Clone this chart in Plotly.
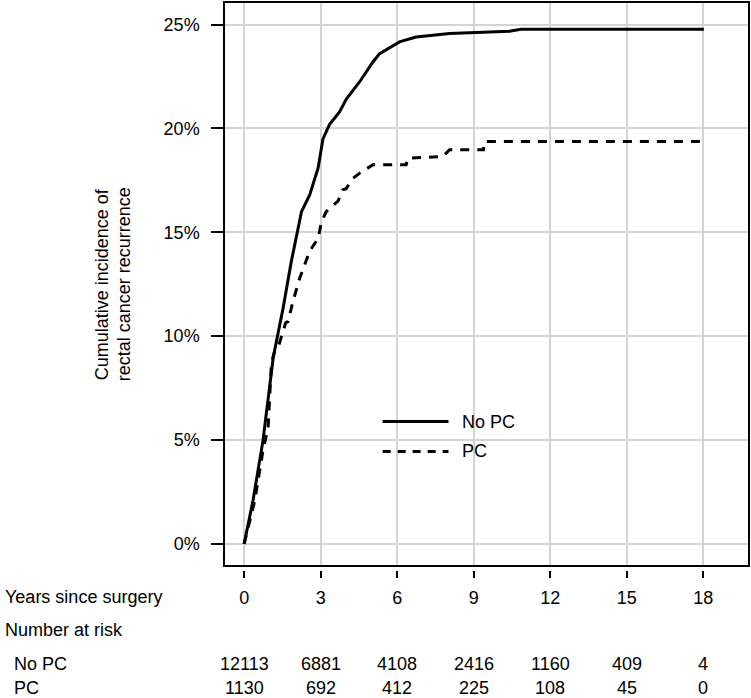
import plotly.graph_objects as go

# ---- data (years since surgery, cumulative incidence %) ----
nopc_years = [0, 0.35, 0.74, 1.07, 1.14, 1.53, 1.85, 2.25, 2.57, 2.90, 3.09, 3.35, 3.74, 4.0, 4.53,
              5.05, 5.31, 6.09, 6.74, 8.05, 10.4, 10.85, 18.02]
nopc_pct = [0, 2.1, 4.98, 8.5, 8.97, 11.37, 13.6, 16.0, 16.8, 18.1, 19.5, 20.2, 20.8, 21.4, 22.25,
            23.2, 23.6, 24.17, 24.4, 24.57, 24.68, 24.78, 24.78]

pc_years = [0, 0.2, 0.42, 0.74, 0.94, 1.07, 1.2, 1.33, 1.5, 1.63, 1.72, 1.92, 2.18, 2.57, 2.9, 3.03,
            3.22, 3.68, 3.87, 4.0, 4.27, 4.59, 5.05, 6.35, 6.42, 7.79, 8.05, 9.38, 9.42, 17.9]
pc_pct = [0, 1.0, 2.1, 4.5, 5.6, 8.7, 9.3, 9.45, 10.1, 10.65, 10.7, 11.7, 12.8, 14.1, 14.7, 15.5,
          16.0, 16.5, 17.05, 17.1, 17.6, 17.9, 18.25, 18.25, 18.57, 18.65, 18.97, 18.97, 19.37, 19.37]

x_ticks = [0, 3, 6, 9, 12, 15, 18]
y_ticks = [0, 5, 10, 15, 20, 25]
y_ticktext = ["0%", "5%", "10%", "15%", "20%", "25%"]
risk_nopc = [12113, 6881, 4108, 2416, 1160, 409, 4]
risk_pc = [1130, 692, 412, 225, 108, 45, 0]

FONT = "Liberation Sans, Arial, Helvetica, sans-serif"
FS = 18
W, H = 751, 698
ML, MR, MT, MB = 225, 2, 1, 128
PH = H - MT - MB  # paper height
LW = 3


def py(pix):
    return (H - MB - pix) / PH


def px(pix):
    return (pix - ML) / (W - ML - MR)


fig = go.Figure()
fig.add_trace(go.Scatter(x=nopc_years, y=nopc_pct, mode="lines", name="No PC",
                         line=dict(color="black", width=LW), showlegend=False))
fig.add_trace(go.Scatter(x=pc_years, y=pc_pct, mode="lines", name="PC",
                         line=dict(color="black", width=LW, dash="9px,8px"), showlegend=False))
# invisible trace for the detached tick axis
fig.add_trace(go.Scatter(x=[x_ticks[0], x_ticks[-1]], y=[0, 0], xaxis="x2", mode="markers",
                         marker=dict(opacity=0), showlegend=False, hoverinfo="skip"))

# legend drawn manually
leg_x0, leg_x1, leg_tx = 5.43, 8.01, 8.45
fig.add_shape(type="line", x0=leg_x0, x1=leg_x1, y0=5.89, y1=5.89, xref="x", yref="y",
              line=dict(color="black", width=LW))
fig.add_shape(type="line", x0=leg_x0, x1=leg_x1, y0=4.45, y1=4.45, xref="x", yref="y",
              line=dict(color="black", width=LW, dash="8px,7px"))

ann = []
ann.append(dict(x=leg_tx, y=5.89, xref="x", yref="y", text="No PC", showarrow=False,
                xanchor="left", yanchor="middle", font=dict(size=FS, family=FONT, color="black")))
ann.append(dict(x=leg_tx, y=4.45, xref="x", yref="y", text="PC", showarrow=False,
                xanchor="left", yanchor="middle", font=dict(size=FS, family=FONT, color="black")))

# y-axis title (two lines)
ann.append(dict(x=px(102), y=0.5, xref="paper", yref="y domain", text="Cumulative incidence of",
                textangle=-90, showarrow=False, xanchor="center", yanchor="middle",
                font=dict(size=FS, family=FONT, color="black")))
ann.append(dict(x=px(124), y=0.5, xref="paper", yref="y domain", text="rectal cancer recurrence",
                textangle=-90, showarrow=False, xanchor="center", yanchor="middle",
                font=dict(size=FS, family=FONT, color="black")))

# risk table
ann.append(dict(x=px(3), y=py(597), xref="paper", yref="paper", text="Years since surgery",
                showarrow=False, xanchor="left", yanchor="middle", font=dict(size=FS, family=FONT, color="black")))
ann.append(dict(x=px(3), y=py(630), xref="paper", yref="paper", text="Number at risk",
                showarrow=False, xanchor="left", yanchor="middle", font=dict(size=FS, family=FONT, color="black")))
ann.append(dict(x=px(12), y=py(664), xref="paper", yref="paper", text="No PC",
                showarrow=False, xanchor="left", yanchor="middle", font=dict(size=FS, family=FONT, color="black")))
ann.append(dict(x=px(12), y=py(688), xref="paper", yref="paper", text="PC",
                showarrow=False, xanchor="left", yanchor="middle", font=dict(size=FS, family=FONT, color="black")))
for xv, n1, n2 in zip(x_ticks, risk_nopc, risk_pc):
    ann.append(dict(x=xv, y=py(664), xref="x", yref="paper", text=str(n1), showarrow=False,
                    xanchor="center", yanchor="middle", font=dict(size=FS, family=FONT, color="black")))
    ann.append(dict(x=xv, y=py(688), xref="x", yref="paper", text=str(n2), showarrow=False,
                    xanchor="center", yanchor="middle", font=dict(size=FS, family=FONT, color="black")))

grid = "#d4d4d4"
fig.update_layout(
    width=W, height=H, autosize=False,
    margin=dict(l=ML, r=MR, t=MT, b=MB, pad=0),
    paper_bgcolor="white", plot_bgcolor="white",
    font=dict(family=FONT, size=FS, color="black"),
    annotations=ann,
    xaxis=dict(range=[-0.75, 19.75], tickvals=x_ticks, showticklabels=False, ticks="",
               showgrid=True, gridcolor=grid, gridwidth=1.5, zeroline=False,
               showline=True, mirror=True, linecolor="black", linewidth=1.5, anchor="y"),
    xaxis2=dict(range=[-0.75, 19.75], overlaying="x", anchor="free", position=0, side="bottom",
                tickvals=x_ticks, ticktext=[str(v) for v in x_ticks], ticks="outside", ticklen=7,
                tickwidth=1.5, tickcolor="black", showgrid=False, zeroline=False, showline=False,
                tickfont=dict(size=FS, family=FONT, color="black"), ticklabelstandoff=4),
    yaxis=dict(domain=[5 / PH, 1], range=[-1.02, 26.04], tickvals=y_ticks, ticktext=y_ticktext,
               ticks="outside", ticklen=12, tickwidth=1.5, tickcolor="black",
               showgrid=True, gridcolor=grid, gridwidth=1.5, zeroline=False,
               showline=True, mirror=True, linecolor="black", linewidth=1.5,
               tickfont=dict(size=FS, family=FONT, color="black"), ticklabelstandoff=8),
)

fig.write_html("out.html")
